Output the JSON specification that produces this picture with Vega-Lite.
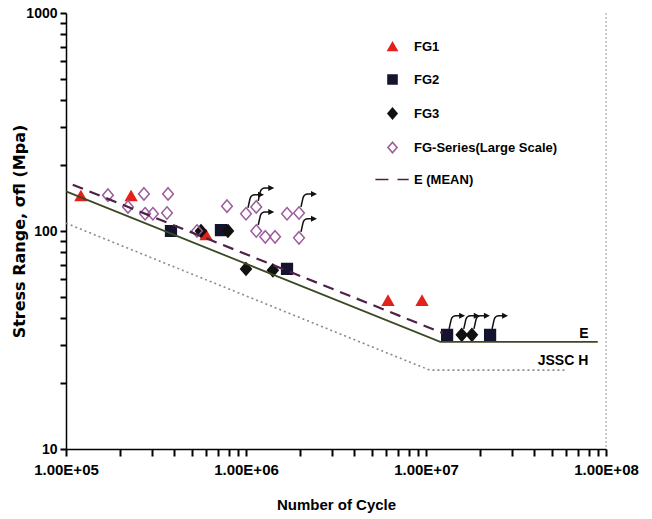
{
  "$schema": "https://vega.github.io/schema/vega-lite/v6.json",
  "width": 540,
  "height": 436,
  "autosize": {"type": "none"},
  "padding": {"left": 66, "top": 13, "right": 46, "bottom": 70},
  "background": "white",
  "config": {
    "view": {"stroke": null},
    "font": "Liberation Sans",
    "axis": {
      "grid": false,
      "ticks": true,
      "domainColor": "#000",
      "domainWidth": 1.5,
      "tickColor": "#000",
      "tickWidth": 2,
      "labelColor": "#000",
      "titleColor": "#000",
      "labelFont": "Liberation Sans",
      "labelFontWeight": "bold",
      "titleFontWeight": "bold"
    },
    "legend": {
      "orient": "none",
      "legendX": 320,
      "legendY": 27,
      "padding": 0,
      "symbolSize": 81,
      "symbolStrokeWidth": 1.6,
      "labelFont": "Liberation Sans",
      "labelFontSize": 13,
      "labelFontWeight": "bold",
      "labelColor": "#000",
      "rowPadding": 17,
      "labelOffset": 15
    }
  },
  "datasets": {
    "points": [
      {"series": "FG1", "N": 121000, "S": 145, "runout": false},
      {"series": "FG1", "N": 230000, "S": 145, "runout": false},
      {"series": "FG1", "N": 600000, "S": 96, "runout": false},
      {"series": "FG1", "N": 6150000, "S": 48, "runout": false},
      {"series": "FG1", "N": 9500000, "S": 48, "runout": false},
      {"series": "FG2", "N": 383000, "S": 100, "runout": false},
      {"series": "FG2", "N": 726000, "S": 101, "runout": false},
      {"series": "FG2", "N": 1690000, "S": 67, "runout": false},
      {"series": "FG2", "N": 13100000, "S": 33.4, "runout": true},
      {"series": "FG2", "N": 22700000, "S": 33.4, "runout": true},
      {"series": "FG3", "N": 562000, "S": 100, "runout": false},
      {"series": "FG3", "N": 794000, "S": 100, "runout": false},
      {"series": "FG3", "N": 1000000, "S": 67, "runout": false},
      {"series": "FG3", "N": 1410000, "S": 66, "runout": false},
      {"series": "FG3", "N": 15800000, "S": 33.4, "runout": true},
      {"series": "FG3", "N": 18000000, "S": 33.4, "runout": true},
      {"series": "FG-Series(Large Scale)", "N": 171000, "S": 146, "runout": false},
      {"series": "FG-Series(Large Scale)", "N": 221000, "S": 129, "runout": false},
      {"series": "FG-Series(Large Scale)", "N": 271000, "S": 148, "runout": false},
      {"series": "FG-Series(Large Scale)", "N": 275000, "S": 120, "runout": false},
      {"series": "FG-Series(Large Scale)", "N": 304000, "S": 120, "runout": false},
      {"series": "FG-Series(Large Scale)", "N": 369000, "S": 148, "runout": false},
      {"series": "FG-Series(Large Scale)", "N": 364000, "S": 121, "runout": false},
      {"series": "FG-Series(Large Scale)", "N": 534000, "S": 100, "runout": false},
      {"series": "FG-Series(Large Scale)", "N": 784000, "S": 130, "runout": false},
      {"series": "FG-Series(Large Scale)", "N": 1000000, "S": 120, "runout": true},
      {"series": "FG-Series(Large Scale)", "N": 1140000, "S": 129, "runout": true},
      {"series": "FG-Series(Large Scale)", "N": 1140000, "S": 100, "runout": true},
      {"series": "FG-Series(Large Scale)", "N": 1280000, "S": 94, "runout": false},
      {"series": "FG-Series(Large Scale)", "N": 1450000, "S": 94, "runout": false},
      {"series": "FG-Series(Large Scale)", "N": 1690000, "S": 120, "runout": false},
      {"series": "FG-Series(Large Scale)", "N": 1970000, "S": 121, "runout": true},
      {"series": "FG-Series(Large Scale)", "N": 1970000, "S": 93, "runout": true}
    ],
    "curves": [
      {"curve": "E", "N": 100000, "S": 152},
      {"curve": "E", "N": 12000000, "S": 31},
      {"curve": "E", "N": 90000000, "S": 31},
      {"curve": "JSSC H", "N": 100000, "S": 108.6},
      {"curve": "JSSC H", "N": 10500000, "S": 23},
      {"curve": "JSSC H", "N": 60000000, "S": 23},
      {"curve": "E (MEAN)", "N": 109000, "S": 163},
      {"curve": "E (MEAN)", "N": 12400000, "S": 34}
    ],
    "labels": [
      {"label": "E", "N": 75500000, "S": 33.7},
      {"label": "JSSC H", "N": 57700000, "S": 25.3}
    ],
    "border": [{"N": 100000000}]
  },
  "layer": [
    {
      "data": {"name": "points"},
      "mark": {"type": "point", "size": 115, "strokeWidth": 1.5, "opacity": 1},
      "encoding": {
        "x": {
          "field": "N", "type": "quantitative",
          "scale": {"type": "log", "domain": [100000, 100000000]},
          "axis": {
            "title": "Number of Cycle",
            "titleFont": "Liberation Sans",
            "titleFontSize": 15,
            "titlePadding": 20,
            "labelFontSize": 15,
            "labelPadding": 6,
            "tickSize": 7,
            "tickCount": 30,
            "labelFlush": false,
            "labelOverlap": false,
            "labelExpr": "abs(log(datum.value)/LN10 - round(log(datum.value)/LN10)) < 0.01 ? '1.00E+0' + round(log(datum.value)/LN10) : ''"
          }
        },
        "y": {
          "field": "S", "type": "quantitative",
          "scale": {"type": "log", "domain": [10, 1000]},
          "axis": {
            "title": "Stress Range, σfl (Mpa)",
            "titleFont": "DejaVu Sans",
            "titleFontSize": 16,
            "titlePadding": -2,
            "labelFontSize": 14,
            "labelPadding": 3,
            "tickSize": 6,
            "tickCount": 20,
            "labelFlush": false,
            "labelOverlap": false,
            "labelExpr": "abs(log(datum.value)/LN10 - round(log(datum.value)/LN10)) < 0.01 ? format(datum.value, 'd') : ''"
          }
        },
        "shape": {
          "field": "series", "type": "nominal",
          "scale": {
            "domain": ["FG1", "FG2", "FG3", "FG-Series(Large Scale)", "E (MEAN)"],
            "range": ["triangle-up", "square", "M0,-1.15L1,0L0,1.15L-1,0Z", "M0,-1.15L1,0L0,1.15L-1,0Z", "M-3.8,0L-0.9,0M1.1,0L3.6,0"]
          },
          "legend": {"title": null}
        },
        "fill": {
          "field": "series", "type": "nominal",
          "scale": {
            "domain": ["FG1", "FG2", "FG3", "FG-Series(Large Scale)", "E (MEAN)"],
            "range": ["#e3221b", "#14142e", "#111111", "transparent", "transparent"]
          },
          "legend": {"title": null}
        },
        "stroke": {
          "field": "series", "type": "nominal",
          "scale": {
            "domain": ["FG1", "FG2", "FG3", "FG-Series(Large Scale)", "E (MEAN)"],
            "range": ["#e3221b", "#14142e", "#111111", "#9b5c9b", "#4f2048"]
          },
          "legend": {"title": null}
        }
      }
    },
    {
      "data": {"name": "border"},
      "mark": {"type": "rule", "color": "#9a9a9a", "strokeDash": [2, 2], "strokeWidth": 1},
      "encoding": {
        "x": {"field": "N", "type": "quantitative"}
      }
    },
    {
      "data": {"name": "curves"},
      "transform": [{"filter": "datum.curve === 'JSSC H'"}],
      "mark": {"type": "line", "color": "#8a8a8a", "strokeDash": [2, 3], "strokeWidth": 1.6},
      "encoding": {
        "x": {"field": "N", "type": "quantitative"},
        "y": {"field": "S", "type": "quantitative"}
      }
    },
    {
      "data": {"name": "curves"},
      "transform": [{"filter": "datum.curve === 'E'"}],
      "mark": {"type": "line", "color": "#3b4a25", "strokeWidth": 1.8},
      "encoding": {
        "x": {"field": "N", "type": "quantitative"},
        "y": {"field": "S", "type": "quantitative"}
      }
    },
    {
      "data": {"name": "curves"},
      "transform": [{"filter": "datum.curve === 'E (MEAN)'"}],
      "mark": {"type": "line", "color": "#4f2048", "strokeDash": [11, 7], "strokeWidth": 2.2},
      "encoding": {
        "x": {"field": "N", "type": "quantitative"},
        "y": {"field": "S", "type": "quantitative"}
      }
    },
    {
      "data": {"name": "points"},
      "transform": [{"filter": "datum.runout"}],
      "mark": {"type": "point", "shape": "M2,-6L4,-15Q5,-19 9,-19L13,-19", "size": 4, "filled": false, "color": "#111", "strokeWidth": 1.5, "opacity": 1},
      "encoding": {
        "x": {"field": "N", "type": "quantitative"},
        "y": {"field": "S", "type": "quantitative"}
      }
    },
    {
      "data": {"name": "points"},
      "transform": [{"filter": "datum.runout"}],
      "mark": {"type": "point", "shape": "M12,-22L18,-19L12,-16Z", "size": 4, "filled": true, "color": "#111", "opacity": 1},
      "encoding": {
        "x": {"field": "N", "type": "quantitative"},
        "y": {"field": "S", "type": "quantitative"}
      }
    },
    {
      "data": {"name": "labels"},
      "mark": {"type": "text", "font": "Liberation Sans", "fontSize": 14, "fontWeight": "bold", "color": "#000", "align": "center", "baseline": "middle"},
      "encoding": {
        "x": {"field": "N", "type": "quantitative"},
        "y": {"field": "S", "type": "quantitative"},
        "text": {"field": "label", "type": "nominal"}
      }
    }
  ]
}
